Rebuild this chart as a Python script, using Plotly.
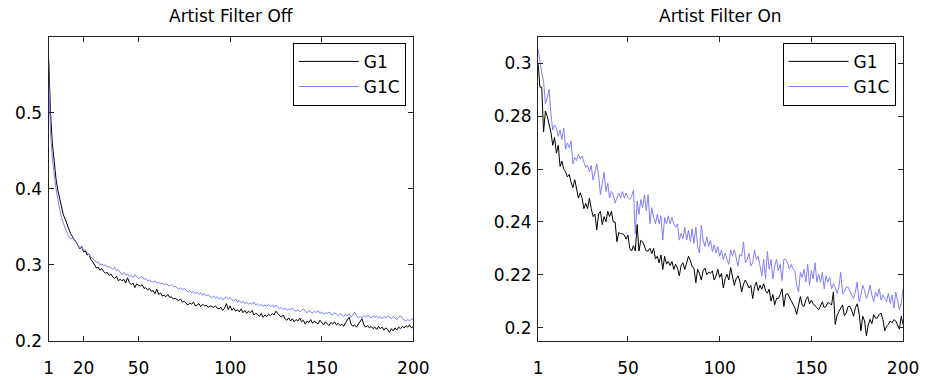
import plotly.graph_objects as go

iterations = list(range(1, 201))

off_g1 = [
0.570,0.500,0.460,0.432,0.413,0.398,0.386,0.374,0.366,0.360,
0.352,0.347,0.341,0.336,0.333,0.330,0.325,0.321,0.324,0.317,
0.318,0.313,0.314,0.307,0.304,0.300,0.296,0.297,0.293,0.295,
0.291,0.289,0.290,0.286,0.288,0.284,0.282,0.285,0.279,0.281,
0.279,0.281,0.276,0.283,0.277,0.274,0.276,0.270,0.275,0.273,
0.272,0.274,0.269,0.270,0.267,0.269,0.265,0.266,0.262,0.268,
0.261,0.263,0.259,0.260,0.258,0.261,0.257,0.258,0.255,0.256,
0.254,0.253,0.255,0.251,0.252,0.249,0.247,0.250,0.248,0.251,
0.246,0.247,0.249,0.245,0.248,0.246,0.247,0.244,0.246,0.245,
0.244,0.246,0.243,0.242,0.244,0.240,0.243,0.249,0.241,0.246,
0.240,0.243,0.239,0.241,0.238,0.242,0.237,0.240,0.236,0.239,
0.237,0.240,0.234,0.236,0.235,0.232,0.236,0.231,0.234,0.232,
0.235,0.233,0.236,0.234,0.239,0.236,0.233,0.231,0.234,0.229,
0.227,0.230,0.226,0.229,0.225,0.228,0.226,0.230,0.225,0.227,
0.222,0.226,0.224,0.228,0.223,0.226,0.224,0.222,0.227,0.224,
0.221,0.225,0.223,0.220,0.224,0.222,0.225,0.221,0.223,0.220,
0.222,0.219,0.224,0.228,0.231,0.222,0.219,0.221,0.218,0.222,
0.226,0.229,0.221,0.218,0.220,0.217,0.219,0.216,0.218,0.215,
0.219,0.216,0.218,0.214,0.217,0.215,0.211,0.216,0.213,0.217,
0.214,0.218,0.216,0.219,0.217,0.220,0.218,0.221,0.217,0.219,
]

off_g1c = [
0.548,0.475,0.440,0.418,0.400,0.386,0.373,0.362,0.355,0.348,
0.342,0.337,0.334,0.335,0.333,0.331,0.326,0.322,0.325,0.319,
0.320,0.316,0.313,0.311,0.309,0.306,0.303,0.304,0.300,0.301,
0.299,0.300,0.297,0.298,0.296,0.294,0.297,0.292,0.294,0.290,
0.287,0.290,0.287,0.288,0.285,0.286,0.283,0.287,0.284,0.282,
0.283,0.285,0.281,0.282,0.279,0.280,0.278,0.277,0.279,0.276,
0.277,0.275,0.276,0.274,0.275,0.273,0.272,0.274,0.271,0.272,
0.270,0.268,0.270,0.267,0.269,0.266,0.264,0.266,0.263,0.265,
0.262,0.264,0.261,0.263,0.260,0.262,0.259,0.261,0.258,0.257,
0.259,0.256,0.258,0.255,0.257,0.254,0.256,0.258,0.255,0.257,
0.254,0.252,0.255,0.251,0.253,0.250,0.252,0.249,0.251,0.248,
0.250,0.248,0.251,0.247,0.249,0.246,0.248,0.245,0.247,0.246,
0.248,0.245,0.247,0.244,0.247,0.244,0.242,0.244,0.241,0.243,
0.240,0.242,0.241,0.243,0.240,0.239,0.241,0.238,0.240,0.242,
0.239,0.237,0.240,0.238,0.236,0.239,0.237,0.240,0.236,0.238,
0.235,0.237,0.236,0.238,0.235,0.234,0.237,0.235,0.233,0.236,
0.234,0.232,0.235,0.233,0.236,0.231,0.234,0.238,0.233,0.230,
0.232,0.230,0.233,0.231,0.234,0.232,0.230,0.233,0.231,0.233,
0.230,0.232,0.229,0.232,0.230,0.233,0.231,0.229,0.232,0.230,
0.228,0.231,0.233,0.229,0.227,0.226,0.228,0.226,0.229,0.228,
]

on_g1 = [
0.3000,0.2910,0.2910,0.2740,0.2820,0.2800,0.2770,0.2740,0.2690,0.2720,
0.2660,0.2690,0.2610,0.2630,0.2600,0.2590,0.2570,0.2580,0.2550,0.2530,
0.2560,0.2530,0.2490,0.2510,0.2490,0.2450,0.2470,0.2450,0.2490,0.2450,
0.2420,0.2430,0.2370,0.2430,0.2440,0.2390,0.2420,0.2400,0.2440,0.2420,
0.2440,0.2400,0.2400,0.2325,0.2360,0.2355,0.2355,0.2350,0.2335,0.2350,
0.2300,0.2290,0.2310,0.2290,0.2390,0.2290,0.2330,0.2325,0.2310,0.2290,
0.2290,0.2300,0.2280,0.2300,0.2260,0.2270,0.2245,0.2275,0.2220,0.2270,
0.2240,0.2250,0.2235,0.2250,0.2220,0.2240,0.2225,0.2196,0.2235,0.2245,
0.2220,0.2250,0.2270,0.2255,0.2230,0.2225,0.2170,0.2220,0.2205,0.2180,
0.2215,0.2225,0.2200,0.2210,0.2205,0.2215,0.2180,0.2195,0.2220,0.2190,
0.2205,0.2150,0.2185,0.2202,0.2180,0.2227,0.2185,0.2160,0.2185,0.2196,
0.2175,0.2135,0.2165,0.2180,0.2166,0.2150,0.2160,0.2110,0.2155,0.2172,
0.2140,0.2160,0.2145,0.2166,0.2140,0.2130,0.2145,0.2100,0.2125,0.2086,
0.2110,0.2110,0.2125,0.2147,0.2080,0.2125,0.2129,0.2115,0.2105,0.2092,
0.2075,0.2050,0.2090,0.2117,0.2085,0.2080,0.2105,0.2117,0.2090,0.2104,
0.2090,0.2080,0.2075,0.2067,0.2085,0.2098,0.2075,0.2080,0.2095,0.2092,
0.2085,0.2135,0.2012,0.2045,0.2061,0.2075,0.2086,0.2045,0.2055,0.2080,
0.2080,0.2065,0.2043,0.2075,0.2090,0.2055,0.1988,0.2043,0.2025,0.1969,
0.2010,0.2031,0.2015,0.2049,0.2035,0.2037,0.2050,0.2055,0.2030,0.1988,
0.2005,0.2012,0.2025,0.2018,0.2030,0.2025,0.2010,0.1994,0.2043,0.2012,
]

on_g1c = [
0.3055,0.3006,0.2963,0.2933,0.2847,0.2871,0.2902,0.2810,0.2748,0.2767,
0.2755,0.2724,0.2748,0.2712,0.2755,0.2675,0.2699,0.2681,0.2706,0.2620,
0.2644,0.2632,0.2656,0.2638,0.2650,0.2626,0.2607,0.2613,0.2589,0.2613,
0.2558,0.2589,0.2620,0.2577,0.2503,0.2546,0.2589,0.2515,0.2546,0.2491,
0.2515,0.2503,0.2472,0.2491,0.2509,0.2491,0.2515,0.2491,0.2509,0.2491,
0.2485,0.2497,0.2521,0.2356,0.2479,0.2429,0.2485,0.2454,0.2503,0.2442,
0.2503,0.2393,0.2454,0.2417,0.2393,0.2429,0.2393,0.2423,0.2331,0.2417,
0.2393,0.2423,0.2393,0.2417,0.2393,0.2380,0.2393,0.2331,0.2356,0.2337,
0.2380,0.2331,0.2368,0.2325,0.2374,0.2319,0.2380,0.2307,0.2282,0.2387,
0.2331,0.2307,0.2344,0.2307,0.2331,0.2288,0.2313,0.2282,0.2307,0.2270,
0.2294,0.2258,0.2282,0.2258,0.2239,0.2294,0.2270,0.2294,0.2258,0.2233,
0.2276,0.2270,0.2325,0.2245,0.2258,0.2282,0.2233,0.2245,0.2294,0.2258,
0.2270,0.2233,0.2196,0.2258,0.2184,0.2288,0.2221,0.2258,0.2184,0.2233,
0.2258,0.2215,0.2239,0.2178,0.2258,0.2258,0.2245,0.2221,0.2239,0.2221,
0.2215,0.2160,0.2135,0.2209,0.2190,0.2221,0.2172,0.2239,0.2160,0.2215,
0.2184,0.2245,0.2172,0.2202,0.2172,0.2209,0.2147,0.2196,0.2172,0.2190,
0.2147,0.2166,0.2153,0.2129,0.2153,0.2209,0.2129,0.2135,0.2153,0.2153,
0.2135,0.2123,0.2110,0.2135,0.2172,0.2098,0.2123,0.2160,0.2141,0.2110,
0.2129,0.2160,0.2123,0.2098,0.2135,0.2117,0.2147,0.2104,0.2123,0.2110,
0.2098,0.2129,0.2092,0.2123,0.2074,0.2135,0.2104,0.2067,0.2092,0.2147,
]

titles = ["Artist Filter Off", "Artist Filter On"]
series_names = ["G1", "G1C"]
left_xticks = [1, 20, 50, 100, 150, 200]
right_xticks = [1, 50, 100, 150, 200]
left_yticks = [0.2, 0.3, 0.4, 0.5]
right_yticks = [0.2, 0.22, 0.24, 0.26, 0.28, 0.3]

BLACK = "#000000"
BLUE = "#7f7fff"
FONT = "DejaVu Sans, Liberation Sans, Arial, sans-serif"

fig = go.Figure()
fig.add_trace(go.Scatter(x=iterations, y=off_g1, mode="lines", name=series_names[0],
                         line=dict(color=BLACK, width=1), xaxis="x", yaxis="y", legend="legend"))
fig.add_trace(go.Scatter(x=iterations, y=off_g1c, mode="lines", name=series_names[1],
                         line=dict(color=BLUE, width=1), xaxis="x", yaxis="y", legend="legend"))
fig.add_trace(go.Scatter(x=iterations, y=on_g1, mode="lines", name=series_names[0],
                         line=dict(color=BLACK, width=1), xaxis="x2", yaxis="y2", legend="legend2"))
fig.add_trace(go.Scatter(x=iterations, y=on_g1c, mode="lines", name=series_names[1],
                         line=dict(color=BLUE, width=1), xaxis="x2", yaxis="y2", legend="legend2"))

W, H = 936, 380
ax_common = dict(showline=True, linecolor="#222222", linewidth=1.3, mirror="ticks",
                 ticks="inside", ticklen=5, tickcolor="#222222", tickwidth=1,
                 showgrid=False, zeroline=False, tickfont=dict(family=FONT, size=17, color="black"))
ydom = [1 - 350 / H, 1 - 38 / H]

fig.update_layout(
    width=W, height=H, margin=dict(l=0, r=0, t=0, b=0),
    paper_bgcolor="white", plot_bgcolor="white",
    font=dict(family=FONT, size=17, color="black"),
    xaxis=dict(domain=[44.7 / W, 417.7 / W], range=[1, 200], tickvals=left_xticks, anchor="y",
               ticklabelstandoff=12, **ax_common),
    yaxis=dict(domain=ydom, range=[0.2, 0.6], tickvals=left_yticks, anchor="x",
               ticklabelstandoff=2, **ax_common),
    xaxis2=dict(domain=[545.3 / W, 918.7 / W], range=[1, 200], tickvals=right_xticks, anchor="y2",
                ticklabelstandoff=12, **ax_common),
    yaxis2=dict(domain=ydom, range=[0.195, 0.31], tickvals=right_yticks, anchor="x2",
                ticklabelstandoff=2, **ax_common),
    legend=dict(x=410 / W, y=1 - 44 / H, xanchor="right", yanchor="top",
                bordercolor="black", borderwidth=1, bgcolor="white",
                font=dict(family=FONT, size=17), itemwidth=60, tracegroupgap=0),
    legend2=dict(x=911 / W, y=1 - 44 / H, xanchor="right", yanchor="top",
                 bordercolor="black", borderwidth=1, bgcolor="white",
                 font=dict(family=FONT, size=17), itemwidth=60, tracegroupgap=0),
    annotations=[
        dict(text=titles[0], x=(44.7 + 417.7) / 2 / W, y=1 - 16 / H, xref="paper", yref="paper",
             xanchor="center", yanchor="middle", showarrow=False, font=dict(family=FONT, size=17)),
        dict(text=titles[1], x=(545.3 + 918.7) / 2 / W, y=1 - 16 / H, xref="paper", yref="paper",
             xanchor="center", yanchor="middle", showarrow=False, font=dict(family=FONT, size=17)),
    ],
)

fig.write_html("out.html")
